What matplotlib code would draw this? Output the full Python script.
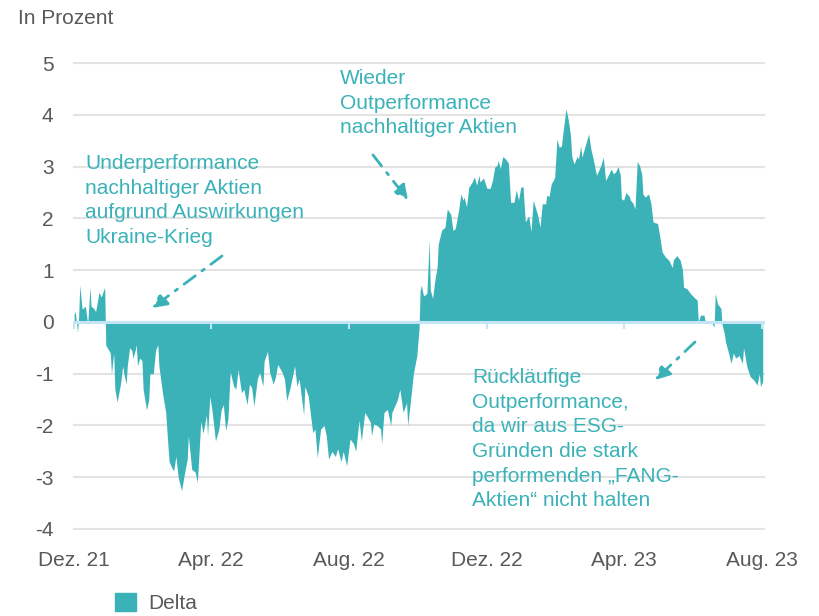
import matplotlib
matplotlib.use("Agg")
import matplotlib.pyplot as plt
from matplotlib.patches import Patch
import pandas as pd

plt.rcParams['font.family'] = ['Liberation Sans', 'DejaVu Sans']

# ========================
# Daten (Tage seit 01.12.2021, Delta in Prozentpunkten)
# ========================
start = pd.Timestamp("2021-12-01")

days = [0, 1, 3, 4, 5, 7, 10, 12, 14, 15, 17, 19, 22, 24, 27, 28, 32, 33, 35, 36,
        38, 41, 43, 44, 46, 47, 49, 51, 52, 54, 55, 56, 58, 60, 61, 64, 66, 67, 70, 72,
        74, 75, 78, 81, 83, 84, 86, 88, 90, 92, 95, 97, 100,
        101, 104, 107, 109, 112, 114, 117, 118, 120, 122, 125, 128, 130, 132, 134, 136, 138, 141, 143, 145,
        148, 150, 153, 155, 157, 159, 162, 164, 167, 168, 171, 173, 176, 178, 180, 184, 186, 188, 191, 195,
        197, 199,
        203, 204, 207, 211, 213, 215, 218, 221, 223, 225, 228, 231, 233, 236, 238, 241, 244, 247, 249, 252,
        254, 257, 259, 262, 263, 265, 268, 271, 272, 274, 277, 280, 281, 286, 288, 291, 294, 295, 297, 300,
        303, 305, 306,
        307, 309, 312, 314, 315, 317, 319, 321, 322, 325, 328, 330, 333, 335, 337, 340, 342, 344, 345, 347,
        349, 352, 354, 356, 358, 359, 362, 365, 368, 370, 372, 374, 375, 377, 379, 381, 384, 386, 389, 391,
        393, 395, 397, 399, 402, 404, 406,
        408, 410, 412, 414, 417, 418, 420, 422, 424, 425, 427, 429, 431, 432, 435, 437, 439, 440, 442, 445,
        446, 448, 449, 452, 455, 457, 459, 462, 464, 466, 468, 470, 473, 475, 477, 479, 481, 483, 484, 486,
        488, 491, 492, 494, 496, 498, 500, 502,
        503, 505, 508, 510, 512, 516, 518, 520, 523, 526, 529, 530, 533, 536, 538, 539, 542, 545, 548, 551,
        552, 554, 557, 558, 561, 564, 566, 567, 569, 572, 573, 575, 576, 578, 581, 583, 585, 588, 591, 592,
        595, 598, 601, 604, 606, 607, 609]

delta = [0.15, 0.2, -0.2, 0.1, 0.71, 0.25, 0.3, -0.05, 0.67, 0.3, 0.27, 0.2, 0.57, 0.48, 0.67, -0.45, -0.6, -1.0, -0.6, -1.3,
         -1.55, -1.2, -0.85, -1.0, -1.2, -0.85, -0.5, -0.55, -0.7, -0.55, -0.44, -0.85, -0.7, -0.75, -1.3, -1.7, -1.5, -1.0, -1.0, -0.55,
         -0.44, -0.85, -1.35, -1.75, -2.4, -2.7, -2.8, -2.88, -2.6, -3.0, -3.26, -3.0, -2.65,
         -2.2, -2.85, -2.9, -3.1, -1.92, -2.15, -1.8, -2.2, -1.44, -1.72, -2.3, -2.07, -1.7, -1.6, -2.1, -1.88, -0.96, -1.24, -1.3, -0.92,
         -1.37, -1.3, -1.6, -1.2, -1.27, -1.63, -1.1, -0.98, -1.24, -0.76, -0.57, -0.98, -1.2, -1.07, -0.82, -0.98, -1.1, -1.52, -1.27, -0.85,
         -1.24, -1.1,
         -1.8, -1.25, -1.43, -2.14, -2.07, -2.62, -2.07, -2.0, -2.2, -2.65, -2.5, -2.6, -2.45, -2.7, -2.5, -2.78, -2.26, -2.35, -2.5, -1.9,
         -2.3, -1.75, -1.82, -1.94, -2.2, -1.97, -2.0, -2.07, -2.35, -1.75, -1.69, -2.0, -1.75, -1.5, -1.3, -1.75, -1.56, -2.0, -1.62, -1.0,
         -0.66, -0.15, 0.6,
         0.71, 0.5, 0.55, 1.58, 0.62, 0.45, 0.8, 1.06, 1.5, 1.77, 1.83, 2.18, 2.08, 1.77, 1.8, 2.15, 2.47, 2.35, 2.41, 2.22,
         2.6, 2.7, 2.8, 2.64, 2.83, 2.7, 2.78, 2.58, 2.58, 2.74, 2.99, 3.02, 3.12, 2.96, 3.19, 3.16, 3.07, 2.31, 2.31, 2.55,
         2.35, 2.6, 2.61, 1.93, 2.05, 1.75, 2.35,
         2.2, 2.06, 1.83, 2.28, 2.28, 2.45, 2.42, 2.67, 2.74, 2.8, 3.53, 3.37, 3.4, 3.6, 4.12, 3.9, 3.6, 3.21, 3.05, 3.2,
         3.14, 3.4, 3.18, 3.4, 3.63, 3.34, 3.15, 2.83, 2.93, 3.03, 3.18, 2.73, 2.86, 2.95, 2.86, 2.9, 3.0, 2.84, 2.38, 2.35,
         2.5, 2.42, 2.35, 2.3, 2.18, 3.1, 3.02, 2.85,
         2.47, 2.41, 2.47, 2.3, 1.93, 1.9, 1.64, 1.35, 1.25, 1.19, 1.05, 1.2, 1.28, 1.19, 1.0, 0.67, 0.64, 0.55, 0.48, 0.42,
         0.0, 0.13, 0.13, 0.02, 0.0, -0.02, -0.1, 0.55, 0.35, 0.26, -0.05, -0.22, -0.38, -0.54, -0.8, -0.6, -0.7, -0.65, -0.8, -0.5,
         -0.87, -1.06, -1.12, -1.22, -1.0, -1.25, -1.15]

tick_dates = ["2021-12-01", "2022-04-01", "2022-08-01", "2022-12-01", "2023-04-01", "2023-08-01"]
tick_labels = ["Dez. 21", "Apr. 22", "Aug. 22", "Dez. 22", "Apr. 23", "Aug. 23"]
y_ticks = [5, 4, 3, 2, 1, 0, -1, -2, -3, -4]

teal = "#3AB2B8"
grey_txt = "#595959"
fs = 15

dates = start + pd.to_timedelta(days, unit="D")
ticks = pd.to_datetime(tick_dates)

# ========================
# Figur
# ========================
W, H = 820, 616
fig = plt.figure(figsize=(W / 100, H / 100), dpi=100)
ax = fig.add_axes([73 / W, (H - 530) / H, 692 / W, 468 / H])

ax.fill_between(dates, delta, 0, color=teal, linewidth=0, zorder=2)
ax.axhline(0, color="#C4E5F5", lw=2.2, zorder=3)
ax.vlines(ticks, -0.13, 0, color="#C4E5F5", lw=1.5, zorder=3)

ax.set_xlim(start - pd.Timedelta(days=1), start + pd.Timedelta(days=611))
ax.set_ylim(-4.02, 5.02)
ax.set_yticks(y_ticks)
ax.set_yticklabels([str(v) for v in y_ticks])
ax.set_xticks(ticks)
ax.set_xticklabels(tick_labels)
ax.tick_params(axis="both", length=0, labelsize=fs, colors=grey_txt)
ax.tick_params(axis="y", pad=14)
ax.tick_params(axis="x", pad=15)
ax.grid(axis="y", color="#E3E3E3", lw=1.5, zorder=1)
ax.set_axisbelow(True)
for s in ax.spines.values():
    s.set_visible(False)

fig.text(18 / W, 1 - 9 / H, "In Prozent", ha="left", va="top", fontsize=fs, color=grey_txt)

# ========================
# Anmerkungen
# ========================
def note(x, y, txt):
    fig.text(x / W, 1 - y / H, txt, ha="left", va="top", fontsize=fs,
             color=teal, linespacing=1.38)

note(85, 154, "Underperformance\nnachhaltiger Aktien\naufgrund Auswirkungen\nUkraine-Krieg")
note(340, 69, "Wieder\nOutperformance\nnachhaltiger Aktien")
note(472, 368, "Rückläufige\nOutperformance,\nda wir aus ESG-\nGründen die stark\n"
               "performenden \u201eFANG-\nAktien\u201c nicht halten")

def arrow(x0, y0, x1, y1):
    ax.annotate("", xy=(x1, H - y1), xycoords="figure pixels",
                xytext=(x0, H - y0), textcoords="figure pixels",
                arrowprops=dict(arrowstyle="-|>", color=teal, lw=2,
                                linestyle=(0, (5, 3, 1, 3)), mutation_scale=22,
                                shrinkA=0, shrinkB=0))

arrow(222, 256, 152, 308)
arrow(373, 155, 408, 200)
arrow(695, 342, 655, 380)

# Legende
fig.legend(handles=[Patch(color=teal, label="Delta")], loc="center left",
           bbox_to_anchor=(96 / W, 1 - 603 / H), frameon=False,
           handlelength=1, handleheight=1, fontsize=fs, labelcolor=grey_txt,
           handletextpad=0.6)

fig.savefig("out.png", dpi=100)
